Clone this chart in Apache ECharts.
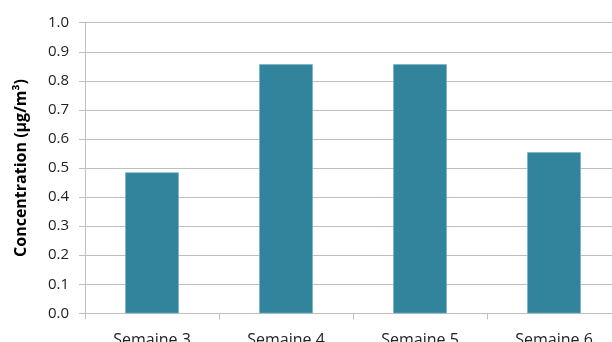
<!DOCTYPE html>
<html>
<head>
<meta charset="utf-8">
<script src="https://cdn.jsdelivr.net/npm/echarts@6/dist/echarts.min.js"></script>
<style>
  html, body { margin: 0; padding: 0; background: #fff; }
  #chart { width: 612px; height: 342px; }
</style>
</head>
<body>
<div id="chart"></div>
<script>
// Weekly concentrations
const weeks = ['Semaine 3', 'Semaine 4', 'Semaine 5', 'Semaine 6'];
const concentration = [0.485, 0.857, 0.857, 0.554];
const yTicks = { min: 0, max: 1.0, step: 0.1 };

const chart = echarts.init(document.getElementById('chart'));
const gray = '#bfbfbf';
const font = 'Open Sans';

chart.setOption({
  animation: false,
  grid: {
    left: 85, top: 22.7, width: 536, height: 290.6,
    containLabel: false, outerBoundsMode: 'none'
  },
  xAxis: {
    type: 'category',
    data: weeks,
    axisLine: { lineStyle: { color: gray, width: 1 } },
    axisTick: { show: true, length: 6, lineStyle: { color: gray } },
    axisLabel: { color: '#222', fontFamily: font, fontSize: 16, margin: 19 }
  },
  yAxis: {
    type: 'value',
    min: yTicks.min,
    max: yTicks.max,
    interval: yTicks.step,
    name: 'Concentration (µg/m³)',
    nameLocation: 'middle',
    nameGap: 56,
    nameTextStyle: { color: '#000', fontFamily: font, fontSize: 16, fontWeight: 'bold' },
    axisLine: { show: true, lineStyle: { color: gray, width: 1 } },
    axisTick: { show: true, length: 6, lineStyle: { color: gray } },
    splitLine: { lineStyle: { color: gray, width: 1 } },
    axisLabel: {
      color: '#222', fontFamily: font, fontSize: 15, margin: 16,
      formatter: v => v.toFixed(1)
    }
  },
  series: [{
    type: 'bar',
    data: concentration,
    barWidth: '40%',
    itemStyle: { color: '#31849b', borderColor: '#6fb3c6', borderWidth: 0.6 }
  }]
});
</script>
</body>
</html>
